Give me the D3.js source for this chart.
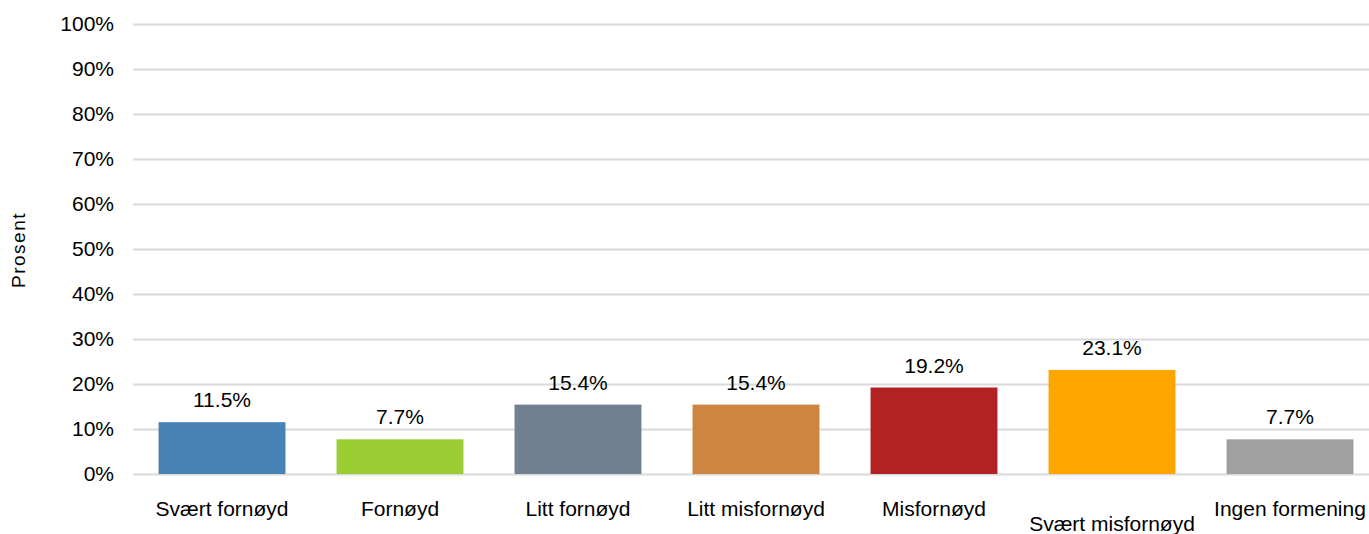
<!DOCTYPE html>
<html><head><meta charset="utf-8">
<script src="https://cdn.jsdelivr.net/npm/d3@7"></script>
<style>body{margin:0;background:#fff}svg{display:block}text{font-family:"Liberation Sans",Arial,sans-serif;fill:#000}</style>
</head><body>
<script>
const categories = ["Svært fornøyd","Fornøyd","Litt fornøyd","Litt misfornøyd","Misfornøyd","Svært misfornøyd","Ingen formening"];
const values = [11.5, 7.7, 15.4, 15.4, 19.2, 23.1, 7.7];
const colors = ["#4682B4","#9ACD32","#708090","#CD853F","#B22222","#FFA500","#A0A0A0"];
const yTicks = [0,10,20,30,40,50,60,70,80,90,100];
const yTitle = "Prosent";

const W=1369,H=534;
const svg=d3.select("body").append("svg").attr("width",W).attr("height",H);
const x=d3.scaleBand().domain(categories).range([133,1379]).paddingInner(0.287).paddingOuter(0.1435);
const y=d3.scaleLinear().domain([0,100]).range([474,23.5]);

svg.append("g").selectAll("line").data(yTicks).join("line")
 .attr("x1",133).attr("x2",W).attr("y1",d=>Math.round(y(d))+0.5).attr("y2",d=>Math.round(y(d))+0.5)
 .attr("stroke","#d9d9d9").attr("stroke-width",2);

svg.append("g").selectAll("text").data(yTicks).join("text")
 .attr("x",114).attr("y",d=>y(d)).attr("dy","0.35em").attr("text-anchor","end")
 .style("font-size","21px").text(d=>d+"%");

svg.append("text").attr("transform","translate(25,250) rotate(-90)").attr("text-anchor","middle")
 .style("font-size","19px").style("letter-spacing","1.5px").text(yTitle);

svg.append("g").selectAll("rect").data(values).join("rect")
 .attr("x",(d,i)=>x(categories[i])).attr("width",x.bandwidth())
 .attr("y",d=>y(d)).attr("height",d=>y(0)-y(d)).attr("fill",(d,i)=>colors[i]);

svg.append("g").selectAll("text").data(values).join("text")
 .attr("x",(d,i)=>x(categories[i])+x.bandwidth()/2).attr("y",d=>y(d)-15)
 .attr("text-anchor","middle").style("font-size","21px").text(d=>d.toFixed(1)+"%");

svg.append("g").selectAll("text").data(categories).join("text")
 .attr("x",d=>x(d)+x.bandwidth()/2).attr("y",(d,i)=>i===5?531:516)
 .attr("text-anchor","middle").style("font-size","21px").text(d=>d);
</script>
</body></html>
